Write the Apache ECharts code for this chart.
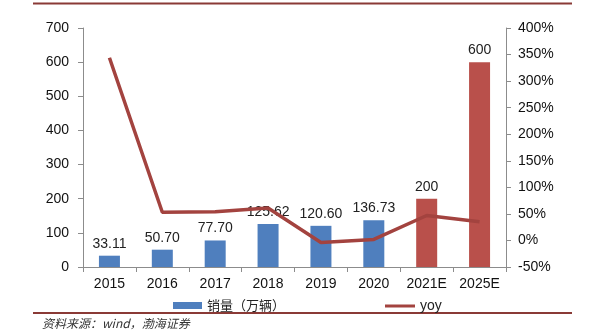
<!DOCTYPE html>
<html>
<head>
<meta charset="utf-8">
<script src="https://cdn.jsdelivr.net/npm/echarts@6/dist/echarts.min.js"></script>
<style>
  html, body { margin: 0; padding: 0; background: #fff; }
  #chart { width: 604px; height: 332px; }
</style>
</head>
<body>
<div id="chart"></div>
<script>
// 新能源汽车销量及同比增速
const years = ['2015', '2016', '2017', '2018', '2019', '2020', '2021E', '2025E'];
const sales = [33.11, 50.70, 77.70, 125.62, 120.60, 136.73, 200, 600];   // 万辆
const yoy = [344, 53, 54, 61, -4, 2, 47, 35];                            // %
const estimates = ['2021E', '2025E'];
const leftTicks = { min: 0, max: 700, interval: 100 };
const rightTicks = { min: -50, max: 400, interval: 50 };

const BLUE = '#4F7FBE';
const RED = '#B9504B';
const LINE = '#A3433F';
const RULE = '#8A3A36';
const FONT = '"Liberation Sans", Arial, sans-serif';

const chart = echarts.init(document.getElementById('chart'));

const barData = sales.map((v, i) => {
  const item = { value: v };
  if (estimates.includes(years[i])) item.itemStyle = { color: RED };
  return item;
});

chart.setOption({
  animation: false,
  textStyle: { fontFamily: FONT },
  grid: { left: 83, right: 98, top: 28, bottom: 65 },
  legend: [
    {
      data: [{ name: '销量（万辆）', icon: 'rect' }],
      left: 168, top: 294,
      itemWidth: 29, itemHeight: 7,
      textStyle: { fontFamily: '"Noto Sans CJK SC", sans-serif', fontSize: 13, color: '#222' }
    },
    {
      data: [{ name: 'yoy', icon: 'rect' }],
      left: 380, top: 294,
      itemWidth: 30, itemHeight: 3,
      itemGap: 2,
      textStyle: { fontFamily: FONT, fontSize: 14, color: '#222' }
    }
  ],
  xAxis: {
    type: 'category',
    data: years,
    axisLine: { lineStyle: { color: '#8c8c8c', width: 1 } },
    axisTick: { show: true, length: 5, lineStyle: { color: '#8c8c8c' } },
    axisLabel: { color: '#111', fontSize: 14, margin: 10 }
  },
  yAxis: [
    {
      type: 'value',
      min: leftTicks.min, max: leftTicks.max, interval: leftTicks.interval,
      splitLine: { show: false },
      axisLine: { show: true, lineStyle: { color: '#8c8c8c' } },
      axisTick: { show: true, length: 5, lineStyle: { color: '#8c8c8c' } },
      axisLabel: { color: '#111', fontSize: 14, margin: 14 }
    },
    {
      type: 'value',
      min: rightTicks.min, max: rightTicks.max, interval: rightTicks.interval,
      splitLine: { show: false },
      axisLine: { show: true, lineStyle: { color: '#8c8c8c' } },
      axisTick: { show: true, length: 5, lineStyle: { color: '#8c8c8c' } },
      axisLabel: { color: '#111', fontSize: 14, margin: 12, formatter: '{value}%' }
    }
  ],
  series: [
    {
      name: '销量（万辆）',
      type: 'bar',
      data: barData,
      barWidth: 21,
      itemStyle: { color: BLUE },
      label: {
        show: true,
        position: 'top',
        distance: 5,
        color: '#222',
        fontSize: 14,
        formatter: p => estimates.includes(p.name) ? String(p.value) : p.value.toFixed(2)
      }
    },
    {
      name: 'yoy',
      type: 'line',
      yAxisIndex: 1,
      data: yoy,
      showSymbol: false,
      symbol: 'none',
      lineStyle: { color: LINE, width: 3.5 },
      itemStyle: { color: LINE },
      z: 3
    }
  ],
  graphic: [
    { type: 'rect', shape: { x: 33, y: 2.5, width: 539, height: 2 }, style: { fill: RULE } },
    { type: 'rect', shape: { x: 33, y: 312, width: 539, height: 2 }, style: { fill: RULE } },
    {
      type: 'text', left: 42, top: 317,
      style: {
        text: '资料来源：wind，渤海证券',
        font: 'italic 12px "Noto Sans CJK SC", sans-serif',
        fill: '#333'
      }
    }
  ]
});
</script>
</body>
</html>
